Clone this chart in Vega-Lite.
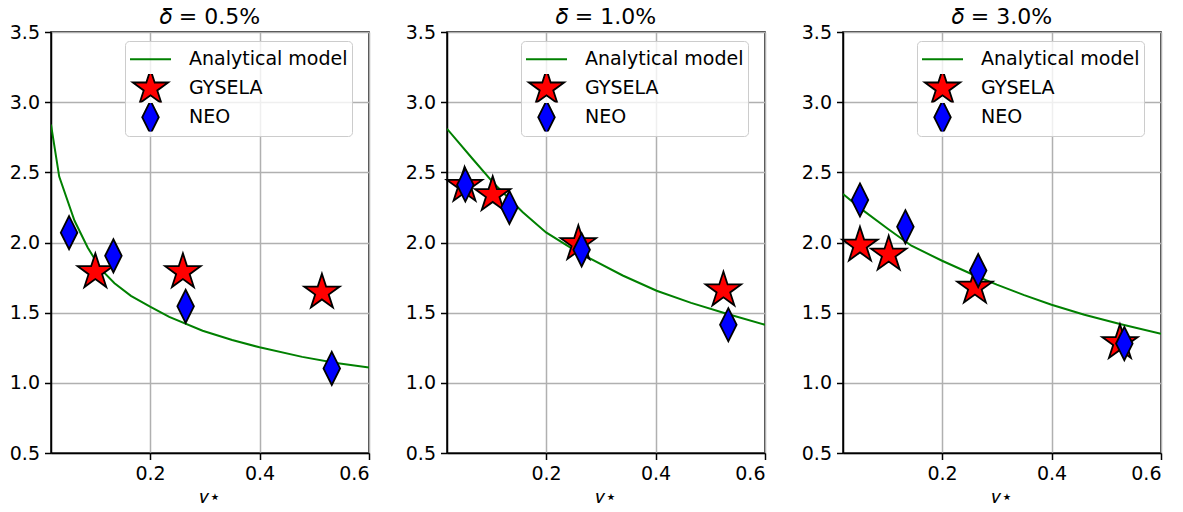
{
  "$schema": "https://vega.github.io/schema/vega-lite/v6.json",
  "background": "white",
  "padding": {"left": 8, "top": 5, "right": 5, "bottom": 5},
  "config": {
    "font": "DejaVu Sans",
    "view": {"stroke": "black", "strokeWidth": 1.5},
    "axis": {
      "labelFont": "DejaVu Sans", "labelFontSize": 19, "labelColor": "black",
      "tickColor": "black", "tickSize": 6.5, "tickWidth": 1.5,
      "domainColor": "black", "domainWidth": 1.5,
      "gridColor": "#b0b0b0", "gridWidth": 1.5, "labelPadding": 5,
      "titleFont": "DejaVu Sans", "titleFontSize": 19, "titleFontWeight": "normal", "titleColor": "black"
    },
    "title": {"font": "DejaVu Sans", "fontSize": 22, "fontWeight": "normal", "color": "black", "offset": -6},
    "legend": {
      "title": null, "orient": "none", "legendX": 74, "legendY": 9, "padding": 4,
      "clipHeight": 28.5, "rowPadding": 0, "labelOffset": 17,
      "labelFont": "DejaVu Sans", "labelFontSize": 19, "labelColor": "black",
      "fillColor": "rgba(255,255,255,0.8)", "strokeColor": "#cccccc", "cornerRadius": 4,
      "symbolStrokeWidth": 1.8, "symbolOpacity": 1
    }
  },
  "datasets": {
    "curves": [
      {"panel": "0.5", "nu": 0.019, "value": 2.84},
      {"panel": "0.5", "nu": 0.034, "value": 2.47},
      {"panel": "0.5", "nu": 0.062, "value": 2.155},
      {"panel": "0.5", "nu": 0.086, "value": 1.965},
      {"panel": "0.5", "nu": 0.110, "value": 1.81},
      {"panel": "0.5", "nu": 0.135, "value": 1.71},
      {"panel": "0.5", "nu": 0.165, "value": 1.62},
      {"panel": "0.5", "nu": 0.2, "value": 1.543},
      {"panel": "0.5", "nu": 0.235, "value": 1.47},
      {"panel": "0.5", "nu": 0.296, "value": 1.371},
      {"panel": "0.5", "nu": 0.35, "value": 1.305},
      {"panel": "0.5", "nu": 0.4, "value": 1.253},
      {"panel": "0.5", "nu": 0.478, "value": 1.185},
      {"panel": "0.5", "nu": 0.54, "value": 1.142},
      {"panel": "0.5", "nu": 0.6, "value": 1.11},
      {"panel": "1.0", "nu": 0.019, "value": 2.81},
      {"panel": "1.0", "nu": 0.066, "value": 2.595},
      {"panel": "1.0", "nu": 0.1025, "value": 2.43},
      {"panel": "1.0", "nu": 0.1575, "value": 2.215},
      {"panel": "1.0", "nu": 0.2, "value": 2.072},
      {"panel": "1.0", "nu": 0.249, "value": 1.953},
      {"panel": "1.0", "nu": 0.28, "value": 1.887},
      {"panel": "1.0", "nu": 0.34, "value": 1.765},
      {"panel": "1.0", "nu": 0.402, "value": 1.656},
      {"panel": "1.0", "nu": 0.465, "value": 1.57},
      {"panel": "1.0", "nu": 0.53, "value": 1.492},
      {"panel": "1.0", "nu": 0.6, "value": 1.414},
      {"panel": "3.0", "nu": 0.019, "value": 2.345},
      {"panel": "3.0", "nu": 0.0527, "value": 2.238},
      {"panel": "3.0", "nu": 0.1014, "value": 2.096},
      {"panel": "3.0", "nu": 0.144, "value": 1.977},
      {"panel": "3.0", "nu": 0.2, "value": 1.87},
      {"panel": "3.0", "nu": 0.261, "value": 1.763},
      {"panel": "3.0", "nu": 0.3, "value": 1.70},
      {"panel": "3.0", "nu": 0.35, "value": 1.625},
      {"panel": "3.0", "nu": 0.4, "value": 1.556},
      {"panel": "3.0", "nu": 0.46, "value": 1.485},
      {"panel": "3.0", "nu": 0.525, "value": 1.419},
      {"panel": "3.0", "nu": 0.6, "value": 1.35}
    ],
    "points": [
      {"panel": "0.5", "series": "GYSELA", "nu": 0.1, "value": 1.79},
      {"panel": "0.5", "series": "GYSELA", "nu": 0.26, "value": 1.79},
      {"panel": "0.5", "series": "GYSELA", "nu": 0.514, "value": 1.645},
      {"panel": "0.5", "series": "NEO", "nu": 0.052, "value": 2.07},
      {"panel": "0.5", "series": "NEO", "nu": 0.133, "value": 1.905},
      {"panel": "0.5", "series": "NEO", "nu": 0.265, "value": 1.545},
      {"panel": "0.5", "series": "NEO", "nu": 0.532, "value": 1.103},
      {"panel": "1.0", "series": "GYSELA", "nu": 0.051, "value": 2.405},
      {"panel": "1.0", "series": "GYSELA", "nu": 0.1025, "value": 2.34},
      {"panel": "1.0", "series": "GYSELA", "nu": 0.259, "value": 1.99},
      {"panel": "1.0", "series": "GYSELA", "nu": 0.524, "value": 1.66},
      {"panel": "1.0", "series": "NEO", "nu": 0.0525, "value": 2.41},
      {"panel": "1.0", "series": "NEO", "nu": 0.133, "value": 2.25},
      {"panel": "1.0", "series": "NEO", "nu": 0.265, "value": 1.948},
      {"panel": "1.0", "series": "NEO", "nu": 0.533, "value": 1.414},
      {"panel": "3.0", "series": "GYSELA", "nu": 0.05, "value": 1.98},
      {"panel": "3.0", "series": "GYSELA", "nu": 0.1025, "value": 1.915},
      {"panel": "3.0", "series": "GYSELA", "nu": 0.26, "value": 1.68},
      {"panel": "3.0", "series": "GYSELA", "nu": 0.525, "value": 1.285},
      {"panel": "3.0", "series": "NEO", "nu": 0.05, "value": 2.303},
      {"panel": "3.0", "series": "NEO", "nu": 0.133, "value": 2.112},
      {"panel": "3.0", "series": "NEO", "nu": 0.266, "value": 1.8},
      {"panel": "3.0", "series": "NEO", "nu": 0.533, "value": 1.28}
    ]
  },
  "spacing": 78,
  "bounds": "flush",
  "resolve": {"scale": {"fill": "independent", "stroke": "independent", "shape": "independent", "size": "independent"}},
  "hconcat": [
    {
      "width": 318, "height": 421,
      "title": "𝛿 = 0.5%",
      "layer": [
        {
          "data": {"name": "curves"},
          "transform": [{"filter": "datum.panel === '0.5'"}],
          "mark": {"type": "line", "color": "#008000", "strokeWidth": 2, "clip": true},
          "encoding": {
            "x": {"field": "nu", "type": "quantitative", "scale": {"domain": [0.019, 0.6], "nice": false, "zero": false}, "axis": {"values": [0.2, 0.4, 0.6], "format": ".1f", "title": "𝜈⋆", "grid": true}},
            "y": {"field": "value", "type": "quantitative", "scale": {"domain": [0.5, 3.5], "nice": false, "zero": false}, "axis": {"values": [0.5, 1, 1.5, 2, 2.5, 3, 3.5], "format": ".1f", "title": null, "grid": true}}
          }
        },
        {
          "data": {"name": "points"},
          "transform": [{"filter": "datum.panel === '0.5'"}],
          "mark": {"type": "point", "filled": true, "opacity": 1, "strokeWidth": 1.8},
          "encoding": {
            "x": {"field": "nu", "type": "quantitative"},
            "y": {"field": "value", "type": "quantitative"},
            "fill": {"field": "series", "type": "nominal", "scale": {"domain": ["Analytical model", "GYSELA", "NEO"], "range": ["#008000", "#ff0000", "#0000ff"]}},
            "stroke": {"field": "series", "type": "nominal", "scale": {"domain": ["Analytical model", "GYSELA", "NEO"], "range": ["#008000", "#000000", "#000000"]}},
            "shape": {"field": "series", "type": "nominal", "scale": {"domain": ["Analytical model", "GYSELA", "NEO"], "range": ["stroke", "M0,-1L0.2245,-0.309L0.951,-0.309L0.363,0.118L0.588,0.809L0,0.382L-0.588,0.809L-0.363,0.118L-0.951,-0.309L-0.2245,-0.309Z", "M0,-1L0.5,0L0,1L-0.5,0Z"]}},
            "size": {"field": "series", "type": "nominal", "scale": {"domain": ["Analytical model", "GYSELA", "NEO"], "range": [1681, 1100, 400]}}
          }
        }
      ]
    },
    {
      "width": 318, "height": 421,
      "title": "𝛿 = 1.0%",
      "layer": [
        {
          "data": {"name": "curves"},
          "transform": [{"filter": "datum.panel === '1.0'"}],
          "mark": {"type": "line", "color": "#008000", "strokeWidth": 2, "clip": true},
          "encoding": {
            "x": {"field": "nu", "type": "quantitative", "scale": {"domain": [0.019, 0.6], "nice": false, "zero": false}, "axis": {"values": [0.2, 0.4, 0.6], "format": ".1f", "title": "𝜈⋆", "grid": true}},
            "y": {"field": "value", "type": "quantitative", "scale": {"domain": [0.5, 3.5], "nice": false, "zero": false}, "axis": {"values": [0.5, 1, 1.5, 2, 2.5, 3, 3.5], "format": ".1f", "title": null, "grid": true}}
          }
        },
        {
          "data": {"name": "points"},
          "transform": [{"filter": "datum.panel === '1.0'"}],
          "mark": {"type": "point", "filled": true, "opacity": 1, "strokeWidth": 1.8},
          "encoding": {
            "x": {"field": "nu", "type": "quantitative"},
            "y": {"field": "value", "type": "quantitative"},
            "fill": {"field": "series", "type": "nominal", "scale": {"domain": ["Analytical model", "GYSELA", "NEO"], "range": ["#008000", "#ff0000", "#0000ff"]}},
            "stroke": {"field": "series", "type": "nominal", "scale": {"domain": ["Analytical model", "GYSELA", "NEO"], "range": ["#008000", "#000000", "#000000"]}},
            "shape": {"field": "series", "type": "nominal", "scale": {"domain": ["Analytical model", "GYSELA", "NEO"], "range": ["stroke", "M0,-1L0.2245,-0.309L0.951,-0.309L0.363,0.118L0.588,0.809L0,0.382L-0.588,0.809L-0.363,0.118L-0.951,-0.309L-0.2245,-0.309Z", "M0,-1L0.5,0L0,1L-0.5,0Z"]}},
            "size": {"field": "series", "type": "nominal", "scale": {"domain": ["Analytical model", "GYSELA", "NEO"], "range": [1681, 1100, 400]}}
          }
        }
      ]
    },
    {
      "width": 318, "height": 421,
      "title": "𝛿 = 3.0%",
      "layer": [
        {
          "data": {"name": "curves"},
          "transform": [{"filter": "datum.panel === '3.0'"}],
          "mark": {"type": "line", "color": "#008000", "strokeWidth": 2, "clip": true},
          "encoding": {
            "x": {"field": "nu", "type": "quantitative", "scale": {"domain": [0.019, 0.6], "nice": false, "zero": false}, "axis": {"values": [0.2, 0.4, 0.6], "format": ".1f", "title": "𝜈⋆", "grid": true}},
            "y": {"field": "value", "type": "quantitative", "scale": {"domain": [0.5, 3.5], "nice": false, "zero": false}, "axis": {"values": [0.5, 1, 1.5, 2, 2.5, 3, 3.5], "format": ".1f", "title": null, "grid": true}}
          }
        },
        {
          "data": {"name": "points"},
          "transform": [{"filter": "datum.panel === '3.0'"}],
          "mark": {"type": "point", "filled": true, "opacity": 1, "strokeWidth": 1.8},
          "encoding": {
            "x": {"field": "nu", "type": "quantitative"},
            "y": {"field": "value", "type": "quantitative"},
            "fill": {"field": "series", "type": "nominal", "scale": {"domain": ["Analytical model", "GYSELA", "NEO"], "range": ["#008000", "#ff0000", "#0000ff"]}},
            "stroke": {"field": "series", "type": "nominal", "scale": {"domain": ["Analytical model", "GYSELA", "NEO"], "range": ["#008000", "#000000", "#000000"]}},
            "shape": {"field": "series", "type": "nominal", "scale": {"domain": ["Analytical model", "GYSELA", "NEO"], "range": ["stroke", "M0,-1L0.2245,-0.309L0.951,-0.309L0.363,0.118L0.588,0.809L0,0.382L-0.588,0.809L-0.363,0.118L-0.951,-0.309L-0.2245,-0.309Z", "M0,-1L0.5,0L0,1L-0.5,0Z"]}},
            "size": {"field": "series", "type": "nominal", "scale": {"domain": ["Analytical model", "GYSELA", "NEO"], "range": [1681, 1100, 400]}}
          }
        }
      ]
    }
  ]
}
